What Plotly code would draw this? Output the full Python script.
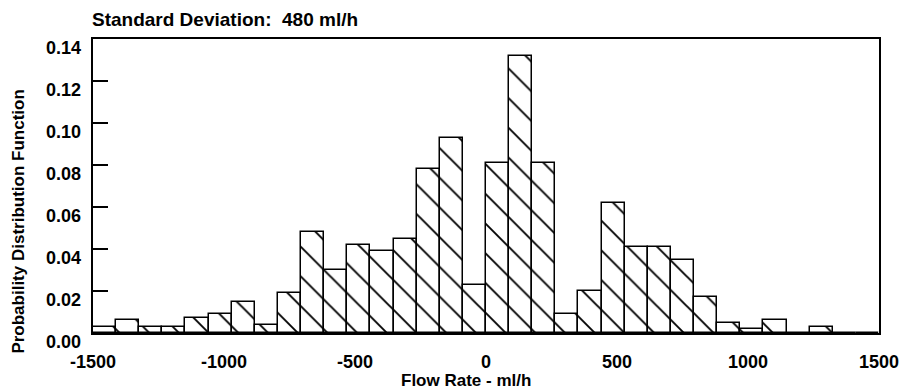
import plotly.graph_objects as go

# Histogram bins (centres, ml/h) and probability values
bin_centers = [-1455.9, -1367.6, -1279.4, -1191.2, -1102.9, -1014.7, -926.5, -838.2,
               -750.0, -661.8, -573.5, -485.3, -397.1, -308.8, -220.6, -132.4,
               -44.1, 44.1, 132.4, 220.6, 308.8, 397.1, 485.3, 573.5,
               661.8, 750.0, 838.2, 926.5, 1014.7, 1102.9, 1191.2, 1279.4,
               1367.6, 1455.9]
pdf_values = [0.003, 0.006, 0.003, 0.003, 0.007, 0.009, 0.015, 0.004,
              0.019, 0.048, 0.030, 0.042, 0.039, 0.045, 0.078, 0.093,
              0.023, 0.081, 0.132, 0.081, 0.009, 0.020, 0.062, 0.041,
              0.041, 0.035, 0.017, 0.005, 0.002, 0.006, 0.0, 0.003,
              0.0, 0.0]
bin_width = 88.235

x_ticks = [-1500, -1000, -500, 0, 500, 1000, 1500]
x_tick_labels = ["-1500", "-1000", "-500", "0", "500", "1000", "1500"]
y_ticks = [0.00, 0.02, 0.04, 0.06, 0.08, 0.10, 0.12, 0.14]
y_tick_labels = ["0.00", "0.02", "0.04", "0.06", "0.08", "0.10", "0.12", "0.14"]

FONT = "Liberation Sans"

fig = go.Figure()
fig.add_trace(go.Bar(
    x=bin_centers, y=pdf_values, width=bin_width,
    marker=dict(
        color="white",
        line=dict(color="black", width=1.5),
        pattern=dict(shape="\\", fgcolor="black", bgcolor="white", fgopacity=1,
                     size=21, solidity=0.09),
    ),
    showlegend=False,
))

annotations = []
for v, t in zip(y_ticks, y_tick_labels):
    annotations.append(dict(x=0, xref="paper", y=v, yref="y", text=t, showarrow=False,
                            xanchor="right", yanchor="middle", xshift=-10, yshift=-9,
                            font=dict(family=FONT, size=18, color="black", weight="bold")))
annotations.append(dict(x=-0.004, xref="paper", y=1.065, yref="paper",
                        text="Standard Deviation:  480 ml/h", showarrow=False,
                        xanchor="left", yanchor="middle",
                        font=dict(family=FONT, size=19, color="black", weight="bold")))
annotations.append(dict(x=-0.095, xref="paper", y=0.38, yref="paper",
                        text="Probability Distribution Function", showarrow=False,
                        textangle=-90, xanchor="center", yanchor="middle",
                        font=dict(family=FONT, size=17, color="black", weight="bold")))
annotations.append(dict(x=0.474, xref="paper", y=-0.16, yref="paper",
                        text="Flow Rate - ml/h", showarrow=False,
                        xanchor="center", yanchor="middle",
                        font=dict(family=FONT, size=17, color="black", weight="bold")))

fig.update_layout(
    width=911, height=390,
    margin=dict(l=93, r=24, t=39, b=57),
    paper_bgcolor="white", plot_bgcolor="white",
    bargap=0,
    annotations=annotations,
    xaxis=dict(range=[-1500, 1500], tickvals=x_ticks, ticktext=x_tick_labels,
               showgrid=False, zeroline=False, showline=True, linecolor="black",
               linewidth=1.5, mirror=True, ticks="", ticklabelstandoff=12,
               tickfont=dict(family=FONT, size=18, color="black", weight="bold")),
    yaxis=dict(range=[0, 0.14], tickvals=y_ticks, showticklabels=False,
               showgrid=False, zeroline=False, showline=True, linecolor="black",
               linewidth=1.5, mirror=True, ticks="inside", ticklen=15,
               tickcolor="black", tickwidth=1.5),
)

fig.write_html("out.html")
